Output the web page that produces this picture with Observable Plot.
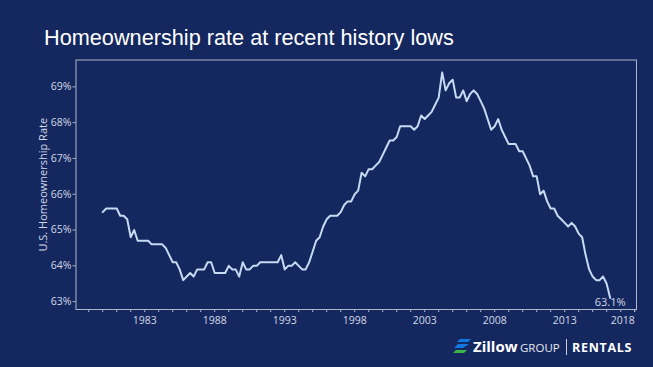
<!DOCTYPE html>
<html>
<head>
<meta charset="utf-8">
<script src="https://cdn.jsdelivr.net/npm/d3@7"></script>
<script src="https://cdn.jsdelivr.net/npm/@observablehq/plot@0.6"></script>
<style>
  html, body { margin: 0; padding: 0; background: #14285f; }
  #wrap { position: relative; width: 653px; height: 367px; background: #14285f; overflow: hidden; }
  #title { position: absolute; left: 44px; top: 27px; margin: 0; color: #ffffff;
           font-family: "Liberation Sans", Arial, sans-serif; font-size: 21.7px; line-height: 1; font-weight: normal; white-space: nowrap; }
  #chart { position: absolute; left: 0; top: 40px; }
  #logo { position: absolute; left: 452px; top: 334px; }
</style>
</head>
<body>
<div id="wrap">
  <h1 id="title">Homeownership rate at recent history lows</h1>
  <div id="chart"></div>
  <svg id="logo" width="190" height="26" viewBox="0 0 190 26">
    <polygon points="8,5 19,5 16,8 5,8" fill="#1277e1"/>
    <polygon points="6,10 17,10 11,14 2,14" fill="#1277e1"/>
    <polygon points="4,16 15,16 12,19 1,19" fill="#3bb54a"/>
    <text x="21" y="18" fill="#ffffff" font-family="'Open Sans', sans-serif" font-weight="bold" font-size="15">Zillow</text>
    <text x="68" y="18" fill="#e6e9f2" font-family="'Open Sans', sans-serif" font-size="11.5">GROUP</text>
    <line x1="114.5" y1="5" x2="114.5" y2="21" stroke="#c9cfdf" stroke-width="1"/>
    <text x="120" y="18" fill="#ffffff" font-family="'Open Sans', sans-serif" font-weight="bold" font-size="12.5" letter-spacing="0.7">RENTALS</text>
  </svg>
</div>
<script>
// Quarterly U.S. homeownership rate (%), first value = Q1 of startYear
const startYear = 1980;
const rate = [
  65.5, 65.6, 65.6, 65.6, 65.6, 65.4, 65.4, 65.3, 64.8, 65.0,
  64.7, 64.7, 64.7, 64.7, 64.6, 64.6, 64.6, 64.6, 64.5, 64.3,
  64.1, 64.1, 63.9, 63.6, 63.7, 63.8, 63.7, 63.9, 63.9, 63.9,
  64.1, 64.1, 63.8, 63.8, 63.8, 63.8, 64.0, 63.9, 63.9, 63.7,
  64.1, 63.9, 63.9, 64.0, 64.0, 64.1, 64.1, 64.1, 64.1, 64.1,
  64.1, 64.3, 63.9, 64.0, 64.0, 64.1, 64.0, 63.9, 63.9, 64.1,
  64.4, 64.7, 64.8, 65.1, 65.3, 65.4, 65.4, 65.4, 65.5, 65.7,
  65.8, 65.8, 66.0, 66.1, 66.6, 66.5, 66.7, 66.7, 66.8, 66.9,
  67.1, 67.3, 67.5, 67.5, 67.6, 67.9, 67.9, 67.9, 67.9, 67.8,
  67.9, 68.2, 68.1, 68.2, 68.3, 68.5, 68.7, 69.4, 68.9, 69.1,
  69.2, 68.7, 68.7, 68.9, 68.6, 68.8, 68.9, 68.8, 68.6, 68.4,
  68.1, 67.8, 67.9, 68.1, 67.8, 67.6, 67.4, 67.4, 67.4, 67.2,
  67.2, 67.0, 66.8, 66.5, 66.5, 66.0, 66.1, 65.8, 65.6, 65.6,
  65.4, 65.3, 65.2, 65.1, 65.2, 65.1, 64.9, 64.8, 64.3, 63.9,
  63.7, 63.6, 63.6, 63.7, 63.5, 63.1
];
const yTicks = [63, 64, 65, 66, 67, 68, 69];
const xLabelYears = [1983, 1988, 1993, 1998, 2003, 2008, 2013];
const xLastLabelYear = 2018;
const minorYears = d3.range(1979, 2019);
const yAxisTitle = "U.S. Homeownership Rate";
const endLabel = "63.1%";

const data = rate.map((v, i) => ({ date: new Date(Date.UTC(startYear, i * 3, 1)), rate: v }));
const last = data[data.length - 1];
const yearDate = (y) => new Date(Date.UTC(y, 0, 1));
const fracDate = (f) => new Date(Date.UTC(Math.floor(f), 0, 1) + (f - Math.floor(f)) * 365.25 * 864e5);

const tickColor = "#d3d8e6";
const fontFam = "'Open Sans', sans-serif";

const chart = Plot.plot({
  width: 653,
  height: 327,
  marginLeft: 75.5,
  marginRight: 17,
  marginTop: 19.5,
  marginBottom: 58,
  style: { background: "transparent", color: tickColor, fontFamily: fontFam, fontSize: "10.5px" },
  x: { type: "utc", domain: [fracDate(1978.09), fracDate(2018.13)] },
  y: { domain: [62.78, 69.75] },
  marks: [
    Plot.frame({ stroke: "#aeb6ca", strokeWidth: 1 }),
    Plot.axisY({ ticks: yTicks, tickFormat: (d) => d + "%", tickSize: 3, tickPadding: 1.5, label: null, stroke: "#aeb6ca", fill: tickColor }),
    Plot.axisX({ ticks: minorYears.map(yearDate), tickFormat: (d) => xLabelYears.includes(d.getUTCFullYear()) ? String(d.getUTCFullYear()) : "",
                 tickSize: 3, tickPadding: 4, label: null, stroke: "#aeb6ca", fill: tickColor }),
    Plot.axisX({ ticks: [yearDate(xLastLabelYear)], tickFormat: (d) => String(d.getUTCFullYear()), textAnchor: "end",
                 tickSize: 3, tickPadding: 4, label: null, stroke: "#aeb6ca", fill: tickColor }),
    Plot.text([yAxisTitle], { frameAnchor: "left", textAnchor: "middle", rotate: -90, dx: -33, fill: tickColor, fontSize: 11, fontFamily: fontFam }),
    Plot.line(data, { x: "date", y: "rate", stroke: "#c6daf2", strokeWidth: 2, curve: "linear" }),
    Plot.text([last], { x: "date", y: "rate", text: () => endLabel, dy: 4, fill: tickColor, fontSize: 11, fontFamily: fontFam })
  ]
});
document.getElementById("chart").appendChild(chart);
</script>
</body>
</html>
